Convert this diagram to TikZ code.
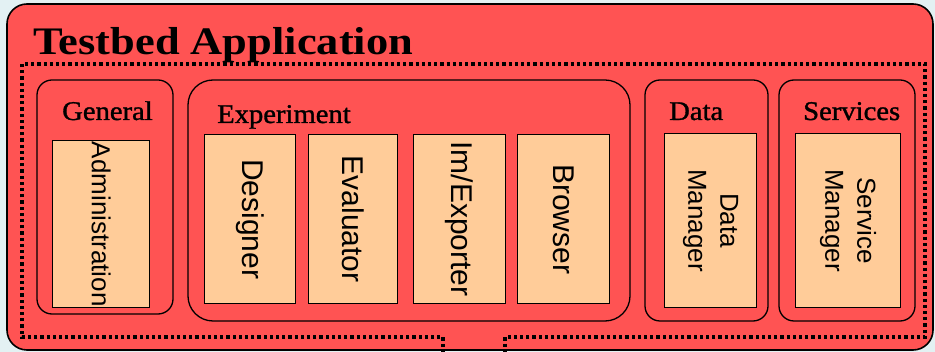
\documentclass[tikz,border=0pt]{standalone}
\usepackage{fontspec}
\newfontfamily\ttlfont[FakeStretch=1.14]{Liberation Serif}
\newfontfamily\lblfont[FakeStretch=1.06,FakeBold=1.2]{Liberation Serif}
\newfontfamily\sansfnt{Liberation Sans}
\definecolor{bgc}{HTML}{E3F1F3}
\definecolor{redc}{HTML}{FF5353}
\definecolor{peach}{HTML}{FFCC99}
\tikzset{
  grp/.style={draw=black, line width=1.3pt, fill=redc, rounded corners=#1},
  grp/.default=15pt,
  comp/.style={draw=black, line width=1.3pt, fill=peach, anchor=north west, inner sep=0pt},
  rot/.style={rotate=-90, inner sep=0pt, font=\sansfnt\fontsize{30}{34}\selectfont, align=center},
  rots/.style={rotate=-90, inner sep=0pt, font=\sansfnt\fontsize{26}{32}\selectfont, align=center},
  hdr/.style={anchor=base west, inner sep=0pt, font=\lblfont\fontsize{27}{30}\selectfont},
}
\begin{document}
\begin{tikzpicture}[x=1pt,y=-1pt]
\fill[bgc] (0,0) rectangle (935,352);
\clip (0,0) rectangle (935,352);
% outer application box
\draw[grp=20pt, line width=1.6pt] (7,4) rectangle (933,350);
\node[anchor=base west, inner sep=0pt, font=\ttlfont\bfseries\fontsize{39}{44}\selectfont] (title) at (33,55) {Testbed Application};
% dotted boundary
\coordinate (d1) at (443,353);
\coordinate (d2) at (505,353);
\draw[line width=3.2pt, dash pattern=on 3.2pt off 3pt] (d1) -- (443,337) -- (22,337) -- (22,64) -- (925,64) -- (925,337) -- (505,337) -- (d2);
% groups
\draw[grp] (37,80) rectangle (173,314);
\draw[grp=25pt] (188,80) rectangle (630,321);
\draw[grp] (645,80) rectangle (768,321);
\draw[grp] (779,80) rectangle (915,321);
\node[hdr] (gen) at (62,120) {General};
\node[hdr] (exp) at (217,123) {Experiment};
\node[hdr] (dat) at (669,120) {Data};
\node[hdr] (ser) at (803,120) {Services};
% components
\node[comp, minimum width=97pt, minimum height=167pt] (adm) at (52,140) {};
\node[comp, minimum width=91pt, minimum height=169pt] (des) at (204,134) {};
\node[comp, minimum width=89pt, minimum height=169pt] (eva) at (308,134) {};
\node[comp, minimum width=92pt, minimum height=169pt] (imx) at (413,134) {};
\node[comp, minimum width=92pt, minimum height=169pt] (bro) at (517,134) {};
\node[comp, minimum width=92pt, minimum height=174pt] (dm) at (664,133) {};
\node[comp, minimum width=105pt, minimum height=174pt] (sm) at (795,133) {};
\node[rots] (admt) at (adm.center) {Administration};
\node[rot] (dest) at (des.center) {Designer};
\node[rot] (evat) at (eva.center) {Evaluator};
\node[rot] (imxt) at (imx.center) {Im/Exporter};
\node[rot] (brot) at (bro.center) {Browser};
\node[rots] (dmt) at (dm.center) {Data\\Manager};
\node[rots] (smt) at (sm.center) {Service\\Manager};
\end{tikzpicture}
\end{document}
